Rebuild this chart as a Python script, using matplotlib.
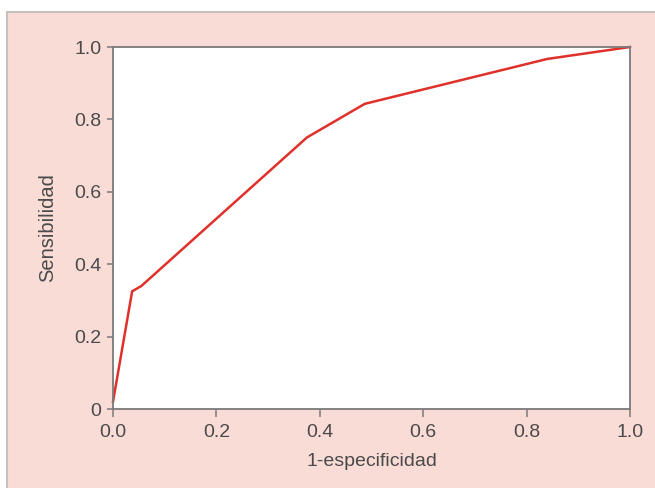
import matplotlib
matplotlib.use("Agg")
import matplotlib.pyplot as plt
from matplotlib.patches import Rectangle

# ROC curve data
fpr = [0.0, 0.037, 0.055, 0.375, 0.487, 0.84, 1.0]
tpr = [0.02, 0.325, 0.34, 0.75, 0.843, 0.967, 1.0]

xticks = [0.0, 0.2, 0.4, 0.6, 0.8, 1.0]
xticklabels = ["0.0", "0.2", "0.4", "0.6", "0.8", "1.0"]
yticks = [0.0, 0.2, 0.4, 0.6, 0.8, 1.0]
yticklabels = ["0", "0.2", "0.4", "0.6", "0.8", "1.0"]

plt.rcParams['font.family'] = ['Liberation Sans', 'DejaVu Sans']

fig = plt.figure(figsize=(6.55, 4.88), dpi=100, facecolor='white')
panel = Rectangle((7/655, -0.01), 1 - 7/655 + 0.01, (488-12)/488 + 0.01, transform=fig.transFigure,
                  facecolor='#fadcd7', edgecolor='#c9bfbb', linewidth=1.5, zorder=-10)
fig.patches.append(panel)

ax = fig.add_axes([113/655, (488-409)/488, (630-113)/655, (409-47)/488])
ax.set_zorder(1)
ax.set_facecolor('white')
ax.plot(fpr, tpr, color='#e0302a', linewidth=1.8, solid_joinstyle='round', clip_on=False)

ax.set_xlim(0, 1)
ax.set_ylim(0, 1)
ax.set_xticks(xticks)
ax.set_xticklabels(xticklabels)
ax.set_yticks(yticks)
ax.set_yticklabels(yticklabels)

grey = '#7a7a7a'
txt = '#4a4a4a'
for s in ax.spines.values():
    s.set_color(grey)
    s.set_linewidth(1.3)
ax.tick_params(axis='both', direction='out', width=1.1, color=grey,
               labelcolor=txt, labelsize=14)
ax.tick_params(axis='x', length=5.5, pad=5)
ax.tick_params(axis='y', length=4.5, pad=4)

ax.set_xlabel('1-especificidad', fontsize=14, color=txt, labelpad=9)
ax.set_ylabel('Sensibilidad', fontsize=14.5, color=txt, labelpad=12)

fig.savefig('out.png', dpi=100, facecolor=fig.get_facecolor())
